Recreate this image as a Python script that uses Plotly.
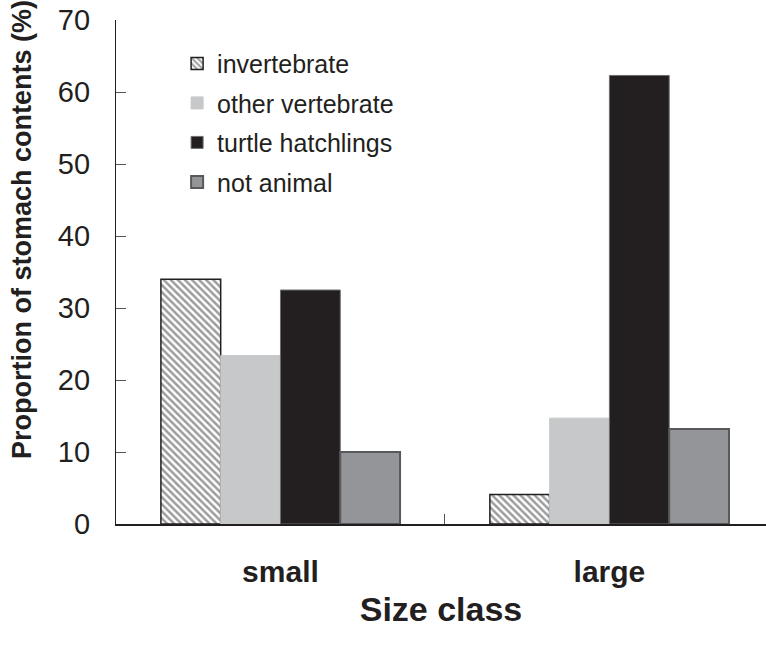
import plotly.graph_objects as go

categories = ["small", "large"]
series_names = ["invertebrate", "other vertebrate", "turtle hatchlings", "not animal"]
invertebrate = [34.0, 4.1]
other_vertebrate = [23.4, 14.7]
turtle_hatchlings = [32.5, 62.3]
not_animal = [10.0, 13.2]
y_ticks = [0, 10, 20, 30, 40, 50, 60, 70]

DARK = "#231f20"
FONT = "Liberation Sans, Arial, Helvetica, sans-serif"

styles = [
    dict(color="white", line=dict(color=DARK, width=1.5),
         pattern=dict(shape="\\", fgcolor="#3a3a3a", bgcolor="white", size=5, solidity=0.5)),
    dict(color="#c7c8ca", line=dict(color="#c7c8ca", width=1)),
    dict(color=DARK, line=dict(color="#6d6e71", width=1)),
    dict(color="#939598", line=dict(color="#58595b", width=2)),
]
values = [invertebrate, other_vertebrate, turtle_hatchlings, not_animal]

fig = go.Figure()
for name, vals, st in zip(series_names, values, styles):
    fig.add_trace(go.Bar(x=categories, y=vals, name=name, marker=st, legendgroup=name))

fig.update_layout(
    width=766, height=646,
    margin=dict(l=116, r=0, t=20, b=122),
    paper_bgcolor="white", plot_bgcolor="white",
    barmode="group", bargap=0.273, bargroupgap=0,
    font=dict(family=FONT, color=DARK),
    showlegend=True,
    legend=dict(x=0.094, y=0.959, xanchor="left", yanchor="top",
                font=dict(size=25, color=DARK), traceorder="grouped",
                tracegroupgap=4, bgcolor="rgba(0,0,0,0)", itemclick=False),
)
fig.update_xaxes(
    type="category", range=[-0.5, 1.476],
    showline=True, linecolor=DARK, linewidth=1.5,
    ticks="inside", tickson="boundaries", ticklen=10, tickcolor="#555",
    tickfont=dict(size=30, family=FONT, color=DARK, weight="bold"),
    ticklabelstandoff=20,
    title=dict(text="<b>Size class</b>", font=dict(size=34, color=DARK), standoff=10),
    showgrid=False, zeroline=False,
)
fig.update_yaxes(
    range=[0, 70], tickvals=y_ticks,
    showline=True, linecolor=DARK, linewidth=1.2,
    ticks="inside", ticklen=10, tickcolor="#555",
    tickfont=dict(size=29, color=DARK),
    ticklabelstandoff=19,
    showgrid=False, zeroline=False,
)
fig.add_annotation(
    text="<b>Proportion of stomach contents (%)</b>", textangle=-90,
    xref="paper", yref="paper", x=-0.145, y=0.585, xanchor="center", yanchor="middle",
    showarrow=False, font=dict(size=27, color=DARK, family=FONT),
)
fig.write_html("out.html",
               config={"displayModeBar": False},
               post_script="document.body.style.margin='0px';document.body.style.overflow='hidden';")
